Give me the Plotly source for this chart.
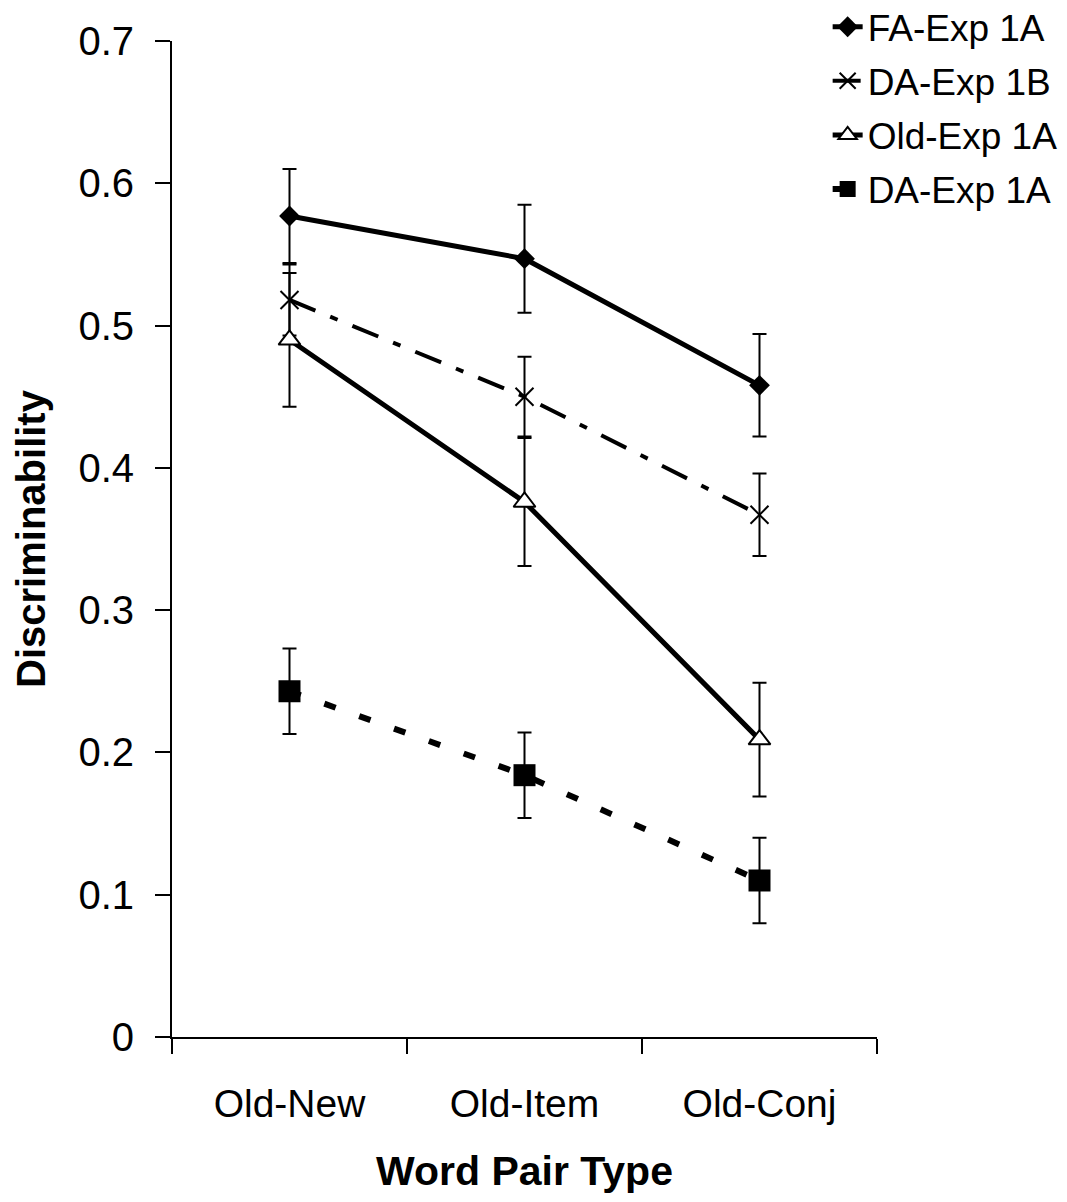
import plotly.graph_objects as go

# Word pair types on the x axis
categories = ["Old-New", "Old-Item", "Old-Conj"]

# Mean discriminability per condition, with error bar half-lengths
fa_exp1a = [0.577, 0.547, 0.458]
fa_exp1a_err = [0.033, 0.038, 0.036]

da_exp1b = [0.518, 0.450, 0.367]
da_exp1b_err = [0.025, 0.028, 0.029]

old_exp1a = [0.490, 0.376, 0.209]
old_exp1a_err = [0.047, 0.045, 0.040]

da_exp1a = [0.243, 0.184, 0.110]
da_exp1a_err = [0.030, 0.030, 0.030]

y_tickvals = [0, 0.1, 0.2, 0.3, 0.4, 0.5, 0.6, 0.7]
y_ticktext = ["0", "0.1", "0.2", "0.3", "0.4", "0.5", "0.6", "0.7"]

FONT = "Liberation Sans, Arial, sans-serif"
BLACK = "#000000"


def err(vals):
    return dict(type="data", array=vals, visible=True, color=BLACK,
                thickness=2, width=7)


fig = go.Figure()

fig.add_trace(go.Scatter(
    x=categories, y=fa_exp1a, name="FA-Exp 1A", mode="lines+markers",
    line=dict(color=BLACK, width=5),
    marker=dict(symbol="diamond", size=16, color=BLACK),
    error_y=err(fa_exp1a_err), legendgroup="a",
))
fig.add_trace(go.Scatter(
    x=categories, y=da_exp1b, name="DA-Exp 1B", mode="lines+markers",
    line=dict(color=BLACK, width=4, dash="28px,16px,8px,16px"),
    marker=dict(symbol="x-thin", size=18, color=BLACK,
                line=dict(color=BLACK, width=2)),
    error_y=err(da_exp1b_err), legendgroup="b",
))
fig.add_trace(go.Scatter(
    x=categories, y=old_exp1a, name="Old-Exp 1A", mode="lines+markers",
    line=dict(color=BLACK, width=5),
    marker=dict(symbol="triangle-up", size=19, color="#ffffff",
                line=dict(color=BLACK, width=2)),
    error_y=err(old_exp1a_err), legendgroup="c",
))
fig.add_trace(go.Scatter(
    x=categories, y=da_exp1a, name="DA-Exp 1A", mode="lines+markers",
    line=dict(color=BLACK, width=6, dash="12px,25px"),
    marker=dict(symbol="square", size=22, color=BLACK),
    error_y=err(da_exp1a_err), legendgroup="d",
))

fig.update_layout(
    width=1067, height=1202,
    margin=dict(l=172, r=190, t=41, b=165, autoexpand=False),
    paper_bgcolor="#ffffff", plot_bgcolor="#ffffff",
    font=dict(family=FONT, color=BLACK, size=39),
    showlegend=True,
    legend=dict(
        x=0.93, y=1.045, xanchor="left", yanchor="top",
        font=dict(family=FONT, size=37, color=BLACK),
        bgcolor="rgba(0,0,0,0)", borderwidth=0,
        tracegroupgap=3, itemsizing="trace",
    ),
)

fig.update_xaxes(
    type="category", categoryorder="array", categoryarray=categories,
    range=[-0.5, 2.5],
    showline=True, linecolor=BLACK, linewidth=2,
    ticks="outside", tickson="boundaries", ticklen=15, tickwidth=2,
    tickcolor=BLACK, showgrid=False, zeroline=False,
    tickfont=dict(family=FONT, size=39, color=BLACK),
    ticklabelstandoff=31,
    title=dict(text="<b>Word Pair Type</b>",
               font=dict(family=FONT, size=41, color=BLACK), standoff=33),
    automargin=False,
)

fig.update_yaxes(
    range=[0, 0.7], tickvals=y_tickvals, ticktext=y_ticktext,
    showline=True, linecolor=BLACK, linewidth=2,
    ticks="outside", ticklen=15, tickwidth=2, tickcolor=BLACK,
    showgrid=False, zeroline=False,
    tickfont=dict(family=FONT, size=40, color=BLACK),
    ticklabelstandoff=13,
    title=dict(text="<b>Discriminability</b>",
               font=dict(family=FONT, size=40, color=BLACK), standoff=20),
    automargin=False,
)

fig.write_html("out.html")
